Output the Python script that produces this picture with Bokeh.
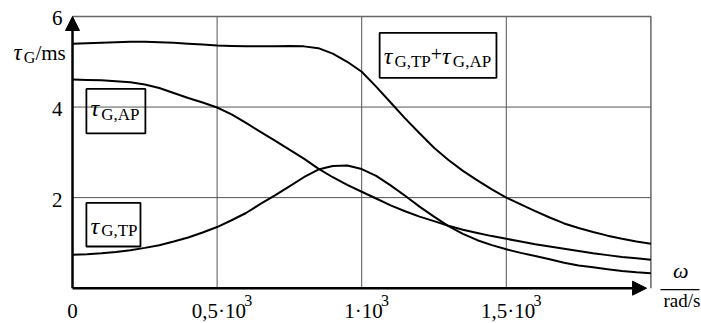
from bokeh.plotting import figure
from bokeh.models import Label, Arrow, NormalHead, BoxAnnotation, Range1d
from bokeh.embed import file_html
from bokeh.resources import INLINE

# ---------------- data ----------------
omega = [0, 50, 100, 150, 200, 250, 300, 350, 400, 450, 500, 550, 600, 650, 700,
         750, 800, 850, 900, 950, 1000, 1050, 1100, 1150, 1200, 1250, 1300, 1350,
         1400, 1450, 1500, 1550, 1600, 1650, 1700, 1750, 1800, 1850, 1900, 1950, 2000]
tau_tp = [0.74, 0.75, 0.77, 0.80, 0.84, 0.89, 0.95, 1.03, 1.12, 1.23, 1.35, 1.50,
          1.66, 1.86, 2.05, 2.25, 2.45, 2.62, 2.70, 2.71, 2.63, 2.48, 2.27, 2.04,
          1.80, 1.58, 1.37, 1.20, 1.06, 0.95, 0.86, 0.78, 0.71, 0.64, 0.56, 0.50,
          0.46, 0.42, 0.38, 0.35, 0.33]
tau_ap = [4.61, 4.60, 4.59, 4.57, 4.55, 4.50, 4.42, 4.31, 4.20, 4.10, 3.99, 3.84,
          3.65, 3.45, 3.26, 3.06, 2.86, 2.64, 2.45, 2.28, 2.13, 1.98, 1.83, 1.70,
          1.58, 1.48, 1.38, 1.29, 1.22, 1.15, 1.09, 1.03, 0.97, 0.92, 0.87, 0.82,
          0.77, 0.73, 0.69, 0.66, 0.63]
tau_sum = [5.40, 5.41, 5.42, 5.43, 5.44, 5.44, 5.43, 5.42, 5.40, 5.38, 5.36, 5.35,
           5.34, 5.34, 5.34, 5.35, 5.34, 5.30, 5.18, 5.00, 4.78, 4.45, 4.10, 3.75,
           3.42, 3.10, 2.83, 2.59, 2.38, 2.18, 2.00, 1.85, 1.70, 1.56, 1.43, 1.33,
           1.24, 1.16, 1.09, 1.03, 0.98]
x_ticks = [0, 500, 1000, 1500]
x_tick_main = ["0", "0,5·10", "1·10", "1,5·10"]
x_tick_sup = ["", "3", "3", "3"]
y_ticks = [2, 4, 6]
y_tick_labels = ["2", "4", "6"]
x_max = 2000
y_max = 6

FONT = "Liberation Serif"
WID = {"0": .5, "1": .5, "2": .5, "3": .5, "4": .5, "5": .5, "6": .5, ",": .25,
       "·": .25, "G": .722, "T": .611, "P": .556, "A": .722, "+": .564, "τ": .45,
       "/": .278, "m": .778, "s": .389}


def tw(s, size):
    return sum(WID.get(c, .5) for c in s) * size


# The frame covers the whole canvas; the chart's plotting area is 0..2000 x 0..6
p = figure(width=701, height=323, x_range=Range1d(-249, 2175), y_range=Range1d(-0.780, 6.353),
           output_backend="svg", toolbar_location=None,
           x_axis_location=None, y_axis_location=None,
           min_border_left=0, min_border_right=0, min_border_top=0, min_border_bottom=0)
p.grid.visible = False
p.outline_line_color = None
p.background_fill_color = "white"
p.border_fill_color = "white"

GRID = "#555555"
# grid lines
p.segment(x0=x_ticks[1:], y0=[0] * 3, x1=x_ticks[1:], y1=[y_max] * 3,
          line_color=GRID, line_width=1)
p.segment(x0=[0] * 2, y0=y_ticks[:2], x1=[x_max] * 2, y1=y_ticks[:2],
          line_color=GRID, line_width=1)
# top and right border of the plotting area
p.line([0, x_max, x_max], [y_max, y_max, 0], line_color="#666666", line_width=1.5)

for ys in (tau_tp, tau_ap, tau_sum):
    p.line(omega, ys, line_color="black", line_width=2)

# axes with arrows
p.add_layout(Arrow(end=NormalHead(size=14, fill_color="black", line_color="black"),
                   x_start=0, y_start=0, x_end=0, y_end=y_max, line_width=2.5, line_color="black"))
p.add_layout(Arrow(end=NormalHead(size=14, fill_color="black", line_color="black"),
                   x_start=0, y_start=0, x_end=1985, y_end=0, line_width=2.5, line_color="black"))


def label(x, y, dx, dy, text, size, italic=False, align="left"):
    p.add_layout(Label(x=x, y=y, x_offset=dx, y_offset=dy, text=text, text_font=FONT,
                       text_font_size=f"{size}px",
                       text_font_style="italic" if italic else "normal",
                       text_align=align, text_baseline="alphabetic", text_color="black"))


def rich(x, y, dx, pieces):
    cur = dx
    for text, size, italic, dy in pieces:
        if text:
            label(x, y, cur, dy, text, size, italic)
        cur += tw(text, size)


# tick labels
for t, m, s in zip(x_ticks, x_tick_main, x_tick_sup):
    total = tw(m, 21) + tw(s, 16)
    start = 5 - total / 2 if s else -tw(m, 21) / 2
    rich(t, 0, start, [(m, 21, False, -23), (s, 16, False, -12)])
for t, s in zip(y_ticks, y_tick_labels):
    label(0, t, -10, -2, s, 21, align="right")

# axis titles
rich(0, y_max, -59, [("τ", 23, True, -36), ("G", 16, False, -41), ("/ms", 21, False, -37)])
label(x_max, 0, 30, 18, "ω", 22, italic=True, align="center")
p.line([2033, 2168], [-0.03, -0.03], line_color="black", line_width=1.2)
label(x_max, 0, 31, -12.5, "rad/s", 19, align="center")

# boxed curve labels
boxes = [
    (48, 252, 4.40, 3.42, [("τ", 24, True, -19), ("G,AP", 17, False, -26)]),
    (48, 235, 1.885, 0.92, [("τ", 24, True, -23), ("G,TP", 17, False, -28)]),
    (1062, 1466, 5.64, 4.645, [("τ", 24, True, -23), ("G,TP", 17, False, -28.5),
                                ("+", 20, False, -21.5), ("τ", 24, True, -23),
                                ("G,AP", 17, False, -28.5)]),
]
for left, right, top, bottom, pieces in boxes:
    p.add_layout(BoxAnnotation(left=left, right=right, top=top, bottom=bottom,
                               fill_alpha=0, line_color="black", line_width=1.8, line_alpha=1))
    rich(left, top, 4, pieces)

open("out.html", "w").write(file_html(p, INLINE))
